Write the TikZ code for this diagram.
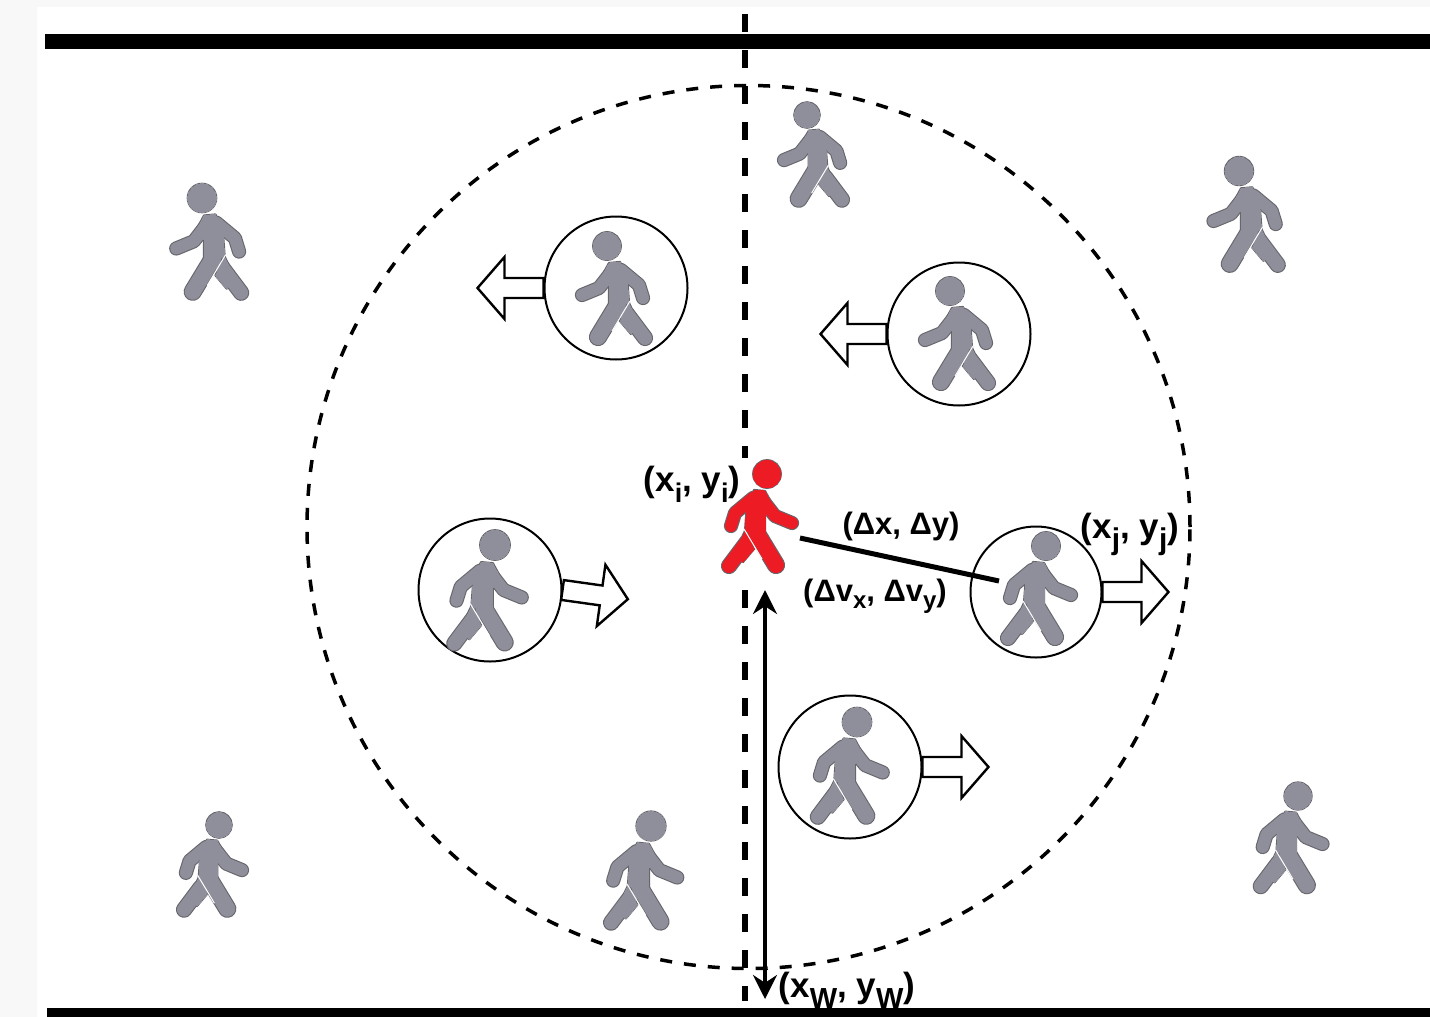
\documentclass[tikz,border=0pt]{standalone}
\usepackage{fontspec}
\setmainfont{Liberation Sans}
\usetikzlibrary{arrows.meta}
\definecolor{walkgray}{HTML}{8F8F9B}
\definecolor{walkedge}{HTML}{66666C}
\definecolor{walkred}{HTML}{ED1C24}
\definecolor{pagegray}{HTML}{F8F8F8}
\newcommand{\bigsub}[2][13.5]{\raisebox{-5.5pt}{\fontsize{#1}{#1}\selectfont #2}}
\newcommand{\smallsub}[1]{\raisebox{-3.5pt}{\fontsize{12}{12}\selectfont #1}}
% one layer of a walker, #1 colour, #2 extra width
\newcommand{\walklayer}[2]{
  \fill[#1, draw=#1, line width=#2, line join=round] (0,0) circle (13.8);
  \draw[#1, line width=7pt+#2, line cap=round, line join=round] (-20,68) -- (-38,92);
  \fill[#1, draw=#1, line width=#2, line join=round] (-22,57) -- (-13,75) -- (-24,88) -- (-32,78) -- cycle;
  \draw[#1, line width=6pt+#2, line cap=round, line join=round] (-6,24) -- (8,42) -- (25,49);
  \draw[#1, line width=6pt+#2, line cap=round, line join=round] (-14,24) -- (-32,39) -- (-36,52);
  \draw[#1, line width=8pt+#2, line cap=round] (-11,58) -- (9,91);
  \fill[#1, draw=#1, line width=#2, line join=round] (-13,16) -- (-2,17) -- (5,30) -- (-2,40) -- (-2,63) -- (-22,57) -- (-20,30) -- cycle;
}
\tikzset{
  every picture/.style={x=0.5pt, y=-0.5pt},
  wall/.style={fill=black, draw=none},
  zone/.style={draw, line width=1.75pt, dash pattern=on 6pt off 6pt},
  axis/.style={draw, line width=3.2pt, dash pattern=on 9pt off 9pt},
  ring/.style={circle, draw, line width=1pt, fill=none, inner sep=0pt},
  label/.style={font=\bfseries\fontsize{17.5}{17.5}\selectfont, inner sep=0pt},
  small label/.style={font=\bfseries\fontsize{15.5}{15.5}\selectfont, inner sep=0pt},
  walker/.pic={
    \walklayer{walkedge}{1.1pt}
    \walklayer{#1}{0pt}
    \draw[white, line width=0.5pt] (-23,55) -- (-5,85);
  },
  blockarrow/.pic={
    \draw[line width=1.2pt, fill=white, line join=miter] (0,-10) -- (39,-10) -- (39,-31) -- (66,0) -- (39,31) -- (39,10) -- (0,10) -- cycle;
  }
}
\begin{document}
\begin{tikzpicture}
  \useasboundingbox (0,0) rectangle (1430,1017);
  \fill[pagegray] (0,0) rectangle (1430,1017);
  \fill[white] (37,7) rectangle (1430,1017);

  % lane centre and neighbourhood
  \coordinate (laneTop) at (745,14);
  \coordinate (laneBottom) at (745,1001);
  \draw[axis] (laneTop) -- (laneBottom);
  \node[circle, zone, minimum size=441.5pt, inner sep=0pt] (range) at (748.5,527) {};

  % walls
  \fill[wall] (45,34) rectangle (1430,49);
  \fill[wall] (47,1008) rectangle (1430,1017);

  % free walkers
  \pic[xscale=-1.03, yscale=1.03] at (202,198) {walker=walkgray};
  \pic[xscale=-.92, yscale=.92] at (807,115) {walker=walkgray};
  \pic[xscale=-1.02, yscale=1.02] at (1239,171) {walker=walkgray};
  \pic[xscale=.92, yscale=.92] at (219,825) {walker=walkgray};
  \pic[xscale=1.05, yscale=1.05] at (651,826) {walker=walkgray};
  \pic[xscale=.98, yscale=.98] at (1298,796) {walker=walkgray};

  % ringed walkers with heading
  \node[ring, minimum size=71.5pt] (ringA) at (616,288) {};
  \node[ring, minimum size=71.5pt] (ringB) at (959,334) {};
  \node[ring, minimum size=71.5pt] (ringC) at (490,590) {};
  \node[ring, minimum size=65.5pt] (ringD) at (1036,592) {};
  \node[ring, minimum size=71.5pt] (ringE) at (850,767) {};

  \pic[xscale=-1] at (607,246) {walker=walkgray};
  \pic[xscale=-1] at (950,291) {walker=walkgray};
  \pic[xscale=1.07, yscale=1.07] at (495,545) {walker=walkgray};
  \pic at (1046,546) {walker=walkgray};
  \pic[xscale=1.03, yscale=1.03] at (857,722) {walker=walkgray};

  \pic[xscale=-1] at (ringA.west) {blockarrow};
  \pic[xscale=-1] at (ringB.west) {blockarrow};
  \pic[rotate=-8] at (ringC.east) {blockarrow};
  \pic at (ringD.east) {blockarrow};
  \pic at (ringE.east) {blockarrow};

  % ego walker
  \fill[white] (730,458) rectangle (760,587);
  \pic at (767,474) {walker=walkred};

  % relations
  \coordinate (linkStart) at (800,538);
  \coordinate (linkEnd) at (999,581);
  \coordinate (gapTop) at (765,590);
  \coordinate (gapBottom) at (765,999);
  \draw[line width=2.5pt] (linkStart) -- (linkEnd);
  \draw[{Stealth[length=12pt,width=12pt]}-{Stealth[length=12pt,width=12pt]}, line width=1.75pt] (gapTop) -- (gapBottom);

  % labels
  \node[label] (posI) at (692,484) {(x\bigsub{i}, y\bigsub{i})};
  \node[small label] (deltaPos) at (901,526) {(Δx, Δy)};
  \node[small label] (deltaVel) at (875,596) {(Δv\smallsub{x}, Δv\smallsub{y})};
  \node[label] (posJ) at (1130,534) {(x\bigsub[15]{j}, y\bigsub[15]{j})};
  \node[label] (posW) at (847,990) {(x\bigsub[14.5]{W}, y\bigsub[14.5]{W})};
\end{tikzpicture}
\end{document}
